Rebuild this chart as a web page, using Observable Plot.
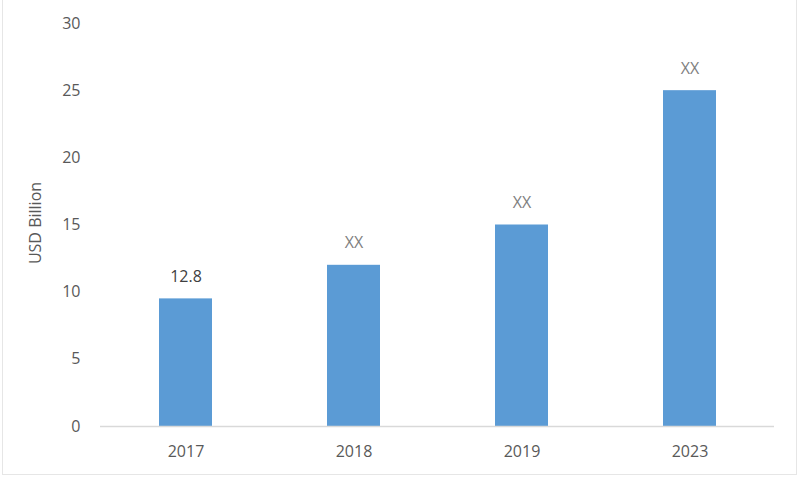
<!DOCTYPE html>
<html>
<head>
<meta charset="utf-8">
<script src="https://cdn.jsdelivr.net/npm/d3@7"></script>
<script src="https://cdn.jsdelivr.net/npm/@observablehq/plot@0.6"></script>
<style>
  html, body { margin: 0; padding: 0; background: #fff; }
  #wrap { position: relative; width: 800px; height: 480px; overflow: hidden; }
  #frame { position: absolute; left: 2px; top: -2px; width: 795px; height: 477px; border: 1px solid #e6e6e6; box-sizing: border-box; pointer-events: none; }
</style>
</head>
<body>
<div id="wrap"><div id="frame"></div></div>
<script>
const years = ["2017", "2018", "2019", "2023"];
const values = [9.5, 12, 15, 25];
const labels = ["12.8", "XX", "XX", "XX"];
const labelColors = ["#404040", "#7f7f7f", "#7f7f7f", "#7f7f7f"];
const yTicks = [0, 5, 10, 15, 20, 25, 30];

const data = years.map((y, i) => ({year: y, value: values[i], label: labels[i], color: labelColors[i]}));

const chart = Plot.plot({
  width: 800,
  height: 480,
  marginLeft: 100,
  marginRight: 26,
  marginTop: 23,
  marginBottom: 54,
  style: {fontFamily: "'Open Sans', sans-serif", fontSize: "16px", color: "#595959", background: "transparent"},
  x: {domain: years, paddingInner: 0.685, paddingOuter: 0.3425, label: null, tickSize: 0, tickPadding: 19},
  y: {domain: [0, 30], ticks: yTicks, label: null, tickSize: 0, tickPadding: 20},
  marks: [
    Plot.barY(data, {x: "year", y: "value", fill: "#5b9bd5"}),
    Plot.ruleY([0], {stroke: "#d9d9d9", strokeWidth: 1.3}),
    Plot.text(data, {x: "year", y: "value", text: "label", dy: -22, fill: "color", fontSize: 16}),
    Plot.text(["USD Billion"], {frameAnchor: "left", textAnchor: "middle", dx: -65, dy: -2, rotate: -90, fill: "#595959", fontSize: 16})
  ]
});
document.getElementById("wrap").appendChild(chart);
</script>
</body>
</html>
